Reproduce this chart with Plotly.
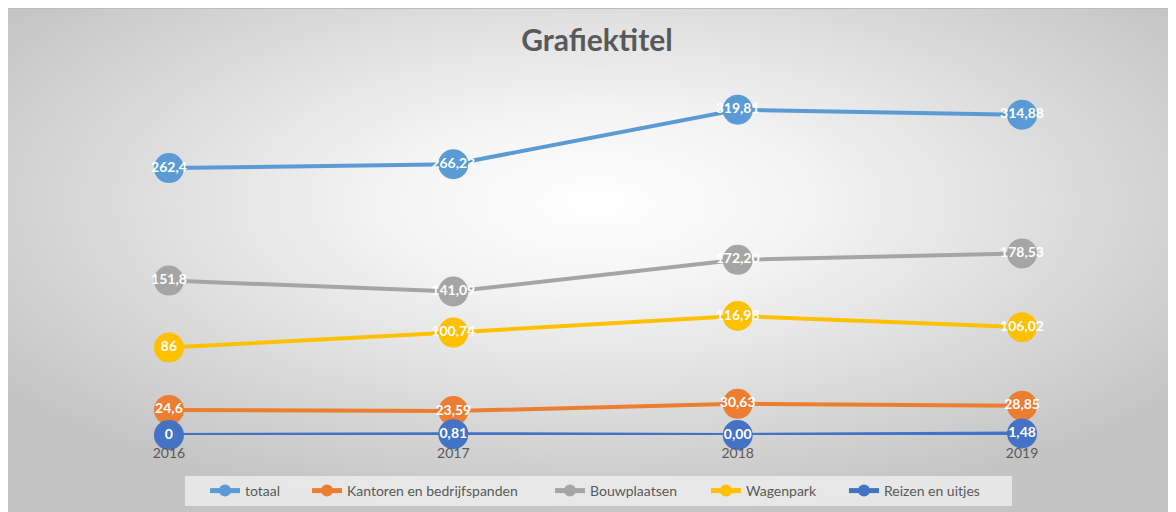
import base64
import plotly.graph_objects as go

# ---- data ----
years = ["2016", "2017", "2018", "2019"]
totaal = [262.4, 266.23, 319.81, 314.88]
kantoren = [24.6, 23.59, 30.63, 28.85]
bouwplaatsen = [151.8, 141.09, 172.20, 178.53]
wagenpark = [86, 100.74, 116.98, 106.02]
reizen = [0, 0.81, 0.00, 1.48]

series_names = ["totaal", "Kantoren en bedrijfspanden", "Bouwplaatsen", "Wagenpark", "Reizen en uitjes"]
series_values = [totaal, kantoren, bouwplaatsen, wagenpark, reizen]
series_colors = ["#5B9BD5", "#ED7D31", "#A5A5A5", "#FFC000", "#4472C4"]


def fmt(v, i):
    s = ("{:g}".format(v) if i == 0 else "{:.2f}".format(v))
    return s.replace(".", ",")


W, H = 1176, 512
OFF = 8  # page body margin
# plot area in figure pixels
PL, PR, PT, PB = 23, 1152, 71, 427
pw, ph = PR - PL, PB - PT


def px(xpix):  # screen pixel -> paper x
    return (xpix - OFF - PL) / pw


def py(ypix):  # screen pixel -> paper y
    return (PB - (ypix - OFF)) / ph


fig = go.Figure()
xs = list(range(len(years)))
for name, vals, col in zip(series_names, series_values, series_colors):
    fig.add_trace(go.Scatter(
        x=xs, y=vals, mode="lines+markers+text", name=name,
        line=dict(color=col, width=4),
        marker=dict(color=col, size=30),
        text=[fmt(v, i) for i, v in enumerate(vals)],
        textposition="middle center",
        textfont=dict(family="Lato", size=14, color="white", weight="bold"),
        cliponaxis=False, showlegend=False,
    ))

# legend entries (one legend each, to reproduce the spacing)
legend_text_x = [247, 349, 592, 748, 886]
legend_layouts = {}
for i, (name, col) in enumerate(zip(series_names, series_colors)):
    lname = "legend" if i == 0 else "legend%d" % (i + 1)
    fig.add_trace(go.Scatter(
        x=[None], y=[None], mode="lines+markers", name=name, legend=lname,
        line=dict(color=col, width=3), marker=dict(color=col, size=7),
    ))
    legend_layouts[lname] = dict(
        orientation="h", x=px(legend_text_x[i] - 42), xanchor="left",
        y=py(491), yanchor="middle",
        bgcolor="rgba(0,0,0,0)", borderwidth=0,
        font=dict(family="Lato", size=14, color="#595959"),
        itemwidth=30, itemsizing="constant",
    )

svg = (
    '<svg xmlns="http://www.w3.org/2000/svg" width="1176" height="512" viewBox="0 0 1176 512" '
    'preserveAspectRatio="none"><defs><radialGradient id="g" cx="0.5" cy="0.38" r="0.62">'
    '<stop offset="0" stop-color="#ffffff"/><stop offset="0.3" stop-color="#f3f3f3"/>'
    '<stop offset="1" stop-color="#c4c4c4"/></radialGradient></defs>'
    '<rect x="0" y="0" width="1176" height="512" fill="url(#g)"/>'
    '<line x1="0" y1="0.5" x2="1176" y2="0.5" stroke="#bdbdbd" stroke-width="1"/>'
    '</svg>'
)
src = "data:image/svg+xml;base64," + base64.b64encode(svg.encode()).decode()

fig.add_layout_image(dict(
    source=src, xref="paper", yref="paper",
    x=-PL / pw, y=PB / ph, sizex=W / pw, sizey=H / ph,
    xanchor="left", yanchor="top", sizing="stretch", layer="below",
))

# legend background box
fig.add_shape(type="rect", xref="paper", yref="paper",
              x0=px(185), x1=px(1012), y0=py(506), y1=py(476),
              fillcolor="rgba(242,242,242,0.75)", line=dict(width=0), layer="below")

fig.update_layout(
    width=W, height=H, autosize=False,
    margin=dict(l=PL, r=W - PR, t=PT, b=H - PB, autoexpand=False),
    paper_bgcolor="white", plot_bgcolor="rgba(0,0,0,0)",
    title=dict(text="<b>Grafiektitel</b>", x=(597 - OFF) / W, xanchor="center",
               y=1 - (40 - OFF) / H, yanchor="middle",
               font=dict(family="Lato", size=30, color="#595959")),
    font=dict(family="Lato", size=14, color="#595959"),
    xaxis=dict(range=[-0.485, 3.485], tickmode="array", tickvals=xs, ticktext=years,
               showgrid=False, zeroline=False, showline=False, ticks="",
               ticklabelstandoff=8,
               tickfont=dict(family="Lato", size=14, color="#595959"), fixedrange=True),
    yaxis=dict(range=[0, 350], showgrid=False, zeroline=False, showline=False,
               showticklabels=False, fixedrange=True),
    showlegend=True,
    **legend_layouts,
)

fig.write_html("out.html")
